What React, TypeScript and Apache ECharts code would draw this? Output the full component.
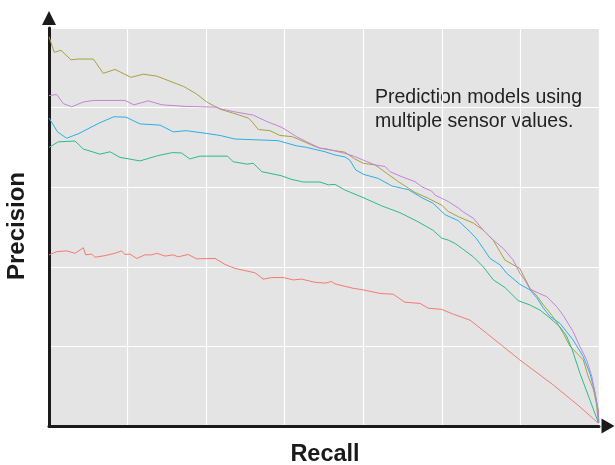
import React, { useEffect, useRef } from "react";
import * as echarts from "echarts";

// Precision-recall curves: [recall, precision]
const redModel: [number, number][] = [
  [0, 0.43], [0.014, 0.438], [0.032, 0.44], [0.0473, 0.434], [0.0564, 0.442], [0.0624, 0.448],
  [0.0667, 0.43], [0.0776, 0.432], [0.0836, 0.424], [0.1018, 0.428], [0.12, 0.434], [0.132, 0.44],
  [0.138, 0.431], [0.147, 0.432], [0.1595, 0.421], [0.1745, 0.43], [0.1867, 0.43], [0.196, 0.434],
  [0.211, 0.427], [0.226, 0.43], [0.235, 0.425], [0.253, 0.431], [0.2685, 0.42], [0.302, 0.421],
  [0.32, 0.406], [0.338, 0.396], [0.3745, 0.385], [0.3896, 0.369], [0.405, 0.373], [0.426, 0.373],
  [0.444, 0.367], [0.4595, 0.369], [0.4836, 0.361], [0.502, 0.359], [0.514, 0.363], [0.52, 0.357],
  [0.553, 0.346], [0.5715, 0.342], [0.602, 0.333], [0.626, 0.331], [0.647, 0.311], [0.6745, 0.308],
  [0.6896, 0.296], [0.714, 0.293], [0.735, 0.281], [0.7655, 0.266], [0.7958, 0.233], [0.856, 0.166],
  [0.917, 0.103], [0.9655, 0.048], [0.9987, 0.007],
];

const oliveModel: [number, number][] = [
  [0, 0.978], [0.0096, 0.939], [0.0218, 0.944], [0.04, 0.92], [0.0522, 0.922], [0.0805, 0.922],
  [0.0987, 0.886], [0.12, 0.896], [0.149, 0.876], [0.1715, 0.884], [0.196, 0.879], [0.245, 0.853],
  [0.2685, 0.834], [0.287, 0.814], [0.311, 0.796], [0.335, 0.786], [0.362, 0.774], [0.369, 0.765],
  [0.3805, 0.745], [0.402, 0.742], [0.4198, 0.73], [0.442, 0.727], [0.456, 0.719], [0.4805, 0.704],
  [0.4927, 0.698], [0.514, 0.693], [0.538, 0.688], [0.556, 0.671], [0.5715, 0.66], [0.593, 0.656],
  [0.611, 0.638], [0.635, 0.614], [0.6655, 0.587], [0.6896, 0.572], [0.714, 0.555], [0.726, 0.539],
  [0.744, 0.526], [0.7715, 0.51], [0.7896, 0.492], [0.808, 0.466], [0.82, 0.438], [0.829, 0.417],
  [0.844, 0.405], [0.856, 0.396], [0.862, 0.379], [0.8745, 0.346], [0.887, 0.327], [0.899, 0.304],
  [0.911, 0.284], [0.923, 0.261], [0.935, 0.233], [0.947, 0.201], [0.9595, 0.183], [0.9715, 0.166],
  [0.98, 0.126], [0.9896, 0.093], [0.9958, 0.053], [0.9987, 0.008],
];

const greenModel: [number, number][] = [
  [0, 0.7], [0.017, 0.714], [0.0473, 0.716], [0.0624, 0.696], [0.0927, 0.683], [0.111, 0.689],
  [0.129, 0.675], [0.1655, 0.666], [0.197, 0.679], [0.2245, 0.687], [0.241, 0.686], [0.256, 0.671],
  [0.2745, 0.678], [0.3245, 0.678], [0.335, 0.664], [0.3595, 0.658], [0.3715, 0.66], [0.387, 0.639],
  [0.422, 0.629], [0.44, 0.62], [0.4624, 0.613], [0.4927, 0.613], [0.508, 0.606], [0.52, 0.607],
  [0.538, 0.593], [0.571, 0.574], [0.605, 0.553], [0.638, 0.536], [0.6685, 0.515], [0.698, 0.492],
  [0.714, 0.472], [0.726, 0.467], [0.738, 0.459], [0.753, 0.444], [0.7715, 0.425], [0.7896, 0.4],
  [0.808, 0.367], [0.829, 0.348], [0.853, 0.315], [0.8745, 0.304], [0.893, 0.291], [0.911, 0.271],
  [0.929, 0.249], [0.941, 0.226], [0.951, 0.193], [0.9655, 0.132], [0.9836, 0.065], [0.9987, 0.009],
];

const blueModel: [number, number][] = [
  [0, 0.774], [0.0155, 0.739], [0.032, 0.723], [0.0545, 0.735], [0.091, 0.761], [0.118, 0.777],
  [0.14, 0.776], [0.1655, 0.759], [0.202, 0.756], [0.226, 0.739], [0.249, 0.742], [0.287, 0.735],
  [0.311, 0.73], [0.338, 0.721], [0.3776, 0.719], [0.416, 0.717], [0.432, 0.711], [0.45, 0.704],
  [0.4685, 0.7], [0.4927, 0.692], [0.502, 0.689], [0.52, 0.681], [0.538, 0.676], [0.547, 0.668],
  [0.558, 0.643], [0.5727, 0.632], [0.5987, 0.622], [0.6236, 0.603], [0.653, 0.594], [0.68, 0.572],
  [0.698, 0.56], [0.72, 0.531], [0.744, 0.516], [0.7655, 0.488], [0.7776, 0.47], [0.7896, 0.446],
  [0.8018, 0.421], [0.82, 0.405], [0.832, 0.384], [0.856, 0.356], [0.8745, 0.342], [0.887, 0.322],
  [0.899, 0.296], [0.911, 0.275], [0.929, 0.258], [0.953, 0.216], [0.9715, 0.174], [0.9836, 0.132],
  [0.993, 0.082], [0.9987, 0.032], [0.9995, 0.008],
];

const purpleModel: [number, number][] = [
  [0, 0.83], [0.014, 0.833], [0.026, 0.81], [0.0413, 0.802], [0.0624, 0.814], [0.0805, 0.818],
  [0.138, 0.818], [0.1545, 0.807], [0.1805, 0.817], [0.2055, 0.807], [0.249, 0.803], [0.305, 0.801],
  [0.3145, 0.796], [0.335, 0.79], [0.3715, 0.781], [0.396, 0.765], [0.422, 0.751], [0.433, 0.742],
  [0.45, 0.727], [0.4685, 0.714], [0.4927, 0.698], [0.502, 0.697], [0.538, 0.685], [0.556, 0.677],
  [0.5715, 0.668], [0.593, 0.656], [0.611, 0.652], [0.62, 0.639], [0.642, 0.626], [0.6655, 0.614],
  [0.678, 0.601], [0.696, 0.59], [0.702, 0.58], [0.72, 0.568], [0.726, 0.564], [0.744, 0.548],
  [0.753, 0.538], [0.7715, 0.522], [0.7896, 0.492], [0.808, 0.467], [0.826, 0.446], [0.844, 0.417],
  [0.856, 0.384], [0.865, 0.367], [0.8745, 0.344], [0.893, 0.332], [0.905, 0.325], [0.911, 0.317],
  [0.923, 0.3], [0.935, 0.278], [0.953, 0.237], [0.9655, 0.199], [0.9776, 0.166], [0.987, 0.124],
  [0.993, 0.082], [0.9987, 0.04], [1.0, 0.008],
];

const seriesNames = ["Model A", "Model B", "Model C", "Model D", "Model E"];
const seriesData = [redModel, oliveModel, greenModel, blueModel, purpleModel];
const seriesColors = ["#F47A72", "#A5A23E", "#2DBB87", "#2BAEEA", "#C483D6"];

const xAxisTitle = "Recall";
const yAxisTitle = "Precision";
const noteLines = ["Prediction models using", "multiple sensor values."];

export default function App() {
  const ref = useRef<HTMLDivElement>(null);

  useEffect(() => {
    if (!ref.current) return;
    const chart = echarts.init(ref.current, null, { renderer: "svg" });
    const font = "'Liberation Sans', Arial, Helvetica, sans-serif";
    chart.setOption({
      animation: false,
      grid: {
        left: 49,
        right: 16,
        top: 28,
        bottom: 39,
        show: true,
        backgroundColor: "#E4E4E4",
        borderWidth: 0,
      },
      xAxis: {
        type: "value",
        min: 0,
        max: 1,
        interval: 1 / 7,
        offset: 2,
        axisLine: {
          show: true,
          lineStyle: { color: "#1a1a1a", width: 3 },
          symbol: ["none", "triangle"],
          symbolSize: [15, 13],
          symbolOffset: [0, 9],
        },
        axisTick: { show: false },
        axisLabel: { show: false },
        splitLine: { show: true, lineStyle: { color: "#FFFFFF", width: 1.2 } },
      },
      yAxis: {
        type: "value",
        min: 0,
        max: 1,
        interval: 0.2,
        offset: 1,
        axisLine: {
          show: true,
          lineStyle: { color: "#1a1a1a", width: 3 },
          symbol: ["none", "triangle"],
          symbolSize: [14, 14],
          symbolOffset: [0, 10],
        },
        axisTick: { show: false },
        axisLabel: { show: false },
        splitLine: { show: true, lineStyle: { color: "#FFFFFF", width: 1.2 } },
      },
      series: seriesData.map((d, i) => ({
        name: seriesNames[i],
        type: "line",
        data: d,
        showSymbol: false,
        symbol: "none",
        lineStyle: { color: seriesColors[i], width: 1 },
        itemStyle: { color: seriesColors[i] },
      })),
      graphic: [
        {
          type: "text",
          x: 325,
          y: 453,
          style: {
            text: xAxisTitle,
            font: `bold 23.5px ${font}`,
            fill: "#1a1a1a",
            align: "center",
            verticalAlign: "middle",
          },
        },
        {
          type: "text",
          x: 15.5,
          y: 226,
          rotation: Math.PI / 2,
          style: {
            text: yAxisTitle,
            font: `bold 24px ${font}`,
            fill: "#1a1a1a",
            align: "center",
            verticalAlign: "middle",
          },
        },
        {
          type: "text",
          x: 375,
          y: 96,
          style: {
            text: noteLines[0],
            font: `19.5px ${font}`,
            fill: "#222222",
            align: "left",
            verticalAlign: "middle",
          },
        },
        {
          type: "text",
          x: 375,
          y: 120,
          style: {
            text: noteLines[1],
            font: `19.5px ${font}`,
            fill: "#222222",
            align: "left",
            verticalAlign: "middle",
          },
        },
      ],
    });
    return () => chart.dispose();
  }, []);

  return (
    <div
      ref={ref}
      style={{ position: "fixed", left: 0, top: 0, width: 615, height: 465 }}
    />
  );
}
